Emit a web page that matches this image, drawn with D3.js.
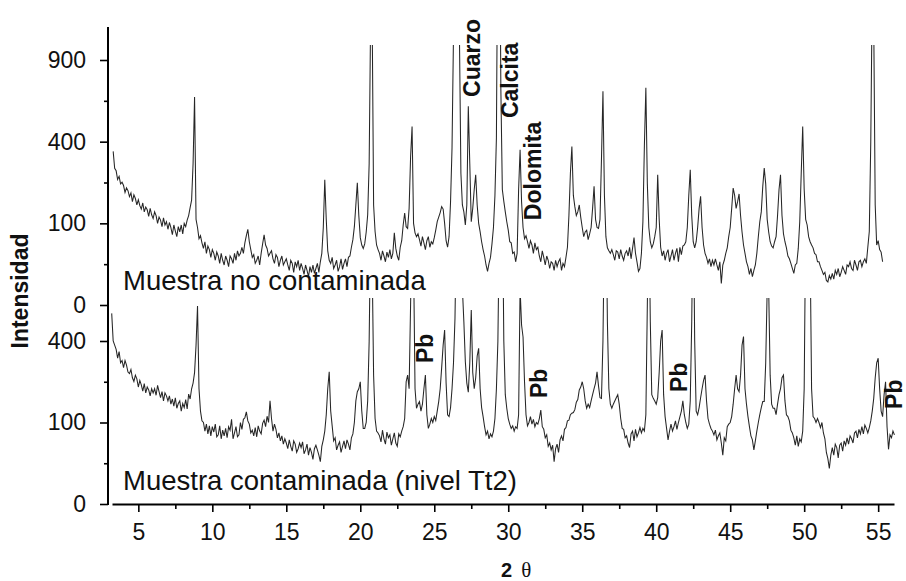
<!DOCTYPE html>
<html>
<head>
<meta charset="utf-8">
<script src="https://cdn.jsdelivr.net/npm/d3@7"></script>
<style>
  body { margin: 0; background: #fff; }
  svg { display: block; }
  text { font-family: "Liberation Sans", Arial, Helvetica, sans-serif; fill: #111; }
</style>
</head>
<body>
<svg id="chart" width="906" height="581"></svg>
<script>
// Diffractogram sampling step (degrees 2θ). Each row: [first angle of the row, counts...]
const angleStep = 0.1;

// Muestra no contaminada
const cleanRows = [
  [3.3, [354,280,270,236,248,220,226]],
  [4,  [214,190,206,196,176,188,160,182,170,150]],
  [5,  [166,148,138,156,130,144,136,118,140,122]],
  [6,  [112,130,120,100,116,108,92,114,96,104]],
  [7,  [86,102,90,74,96,82,70,92,80,96]],
  [8,  [76,100,92,108,120,142,165,300,648,110]],
  [9,  [90,66,72,58,48,60,40,52,46,34]],
  [10, [46,40,30,42,36,26,40,30,24,36]],
  [11, [30,22,36,32,26,40,30,44,36,40]],
  [12, [50,40,58,72,86,60,46,34,38,26]],
  [13, [30,36,24,40,56,74,54,48,36,40]],
  [14, [44,32,26,38,34,22,30,36,24,28]],
  [15, [32,24,18,30,26,16,28,22,30,18]],
  [16, [26,20,14,24,18,12,22,16,24,15]],
  [17, [20,26,16,28,40,90,235,110,44,30]],
  [18, [26,34,20,24,30,17,22,32,19,26]],
  [19, [32,22,34,36,50,64,92,150,224,120]],
  [20, [68,54,48,56,80,122,300,1250,1300,150]],
  [21, [81,54,46,40,30,44,36,28,42,34]],
  [22, [46,32,40,78,48,36,30,50,62,96]],
  [23, [127,92,88,140,330,478,100,78,70,76]],
  [24, [64,52,70,58,46,62,70,50,60,56]],
  [25, [68,84,104,116,128,145,138,100,62,50]],
  [26, [70,160,371,1100,2000,3000,2500,1100,260,150]],
  [27, [130,96,150,592,300,104,140,200,254,150]],
  [28, [100,80,60,46,36,24,17,26,34,56]],
  [29, [90,180,420,2500,3000,700,200,161,130,104]],
  [30, [84,60,58,40,42,28,40,200,361,160]],
  [31, [90,66,72,60,48,62,54,40,58,46]],
  [32, [50,36,28,44,34,24,36,30,20,28]],
  [33, [26,18,30,22,28,32,18,26,22,34]],
  [34, [50,120,260,377,180,145,120,130,150,115]],
  [35, [90,70,80,84,64,76,90,140,211,110]],
  [36, [90,88,110,320,685,180,70,49,44,40]],
  [37, [46,38,30,44,42,32,46,36,30,40]],
  [38, [44,36,50,32,48,68,40,28,17,20]],
  [39, [40,104,380,707,220,90,60,49,56,70]],
  [40, [90,254,110,50,36,44,30,40,46,28]],
  [41, [36,46,30,40,48,28,50,38,52,54]],
  [42, [60,90,180,274,120,60,49,60,90,140]],
  [43, [177,90,54,40,34,26,32,22,30,24]],
  [44, [32,24,18,28,7,24,30,40,49,70]],
  [45, [90,140,205,180,140,160,185,120,80,54]],
  [46, [40,28,22,14,20,12,18,24,40,70]],
  [47, [104,130,210,281,220,110,80,60,52,49]],
  [48, [60,70,120,200,254,120,76,60,49,36]],
  [49, [32,26,20,15,24,26,48,104,260,478]],
  [50, [200,110,96,70,60,54,49,40,38,28]],
  [51, [28,22,18,14,16,9,8,13,10,15]],
  [52, [10,18,14,20,12,16,22,18,14,24]],
  [53, [22,28,20,18,30,24,18,28,30,22]],
  [54, [28,32,26,50,81,400,1500,1200,150,54]],
  [55, [62,46,42,28]]
];

// Muestra contaminada (nivel Tt2)
const leadRows = [
  [3.2, [547,400,380,360,320,350,300,310]],
  [4,  [280,310,290,262,256,272,240,226,250,236]],
  [5,  [206,230,214,192,218,186,206,196,176,200]],
  [6,  [186,200,178,212,190,170,190,160,186,176]],
  [7,  [160,176,150,166,144,170,138,152,160,130]],
  [8,  [152,140,164,136,182,166,200,220,260,380]],
  [9,  [590,200,130,104,100,80,96,74,92,70]],
  [10, [90,78,96,68,72,92,64,82,70,86]],
  [11, [66,90,82,108,64,76,90,68,72,100]],
  [12, [84,108,112,128,104,96,76,82,70,88]],
  [13, [68,92,80,74,98,106,90,116,100,160]],
  [14, [110,80,96,84,66,76,60,70,54,64]],
  [15, [56,46,62,50,42,60,54,40,46,56]],
  [16, [48,58,38,44,54,36,48,40,30,46]],
  [17, [52,44,36,27,50,62,80,120,200,263]],
  [18, [130,92,60,66,44,52,58,40,50,60]],
  [19, [46,62,54,44,66,74,100,160,190,200]],
  [20, [225,130,86,86,100,160,400,1200,900,250]],
  [21, [110,80,76,70,58,82,64,54,78,66]],
  [22, [72,52,64,76,56,50,74,68,80,90]],
  [23, [110,225,250,200,600,1300,900,200,138,150]],
  [24, [158,130,150,200,250,120,86,96,110,100]],
  [25, [115,105,130,158,200,280,380,456,220,120]],
  [26, [115,140,200,300,520,1200,3000,2000,1000,700]],
  [27, [500,305,220,188,300,567,260,200,240,330]],
  [28, [365,200,140,115,90,72,80,64,74,68]],
  [29, [80,110,200,400,1200,3000,1500,400,180,138]],
  [30, [110,96,86,92,80,90,86,120,700,482]],
  [31, [420,225,120,92,100,115,96,108,90,100]],
  [32, [96,110,133,90,84,66,72,50,56,44]],
  [33, [52,27,46,54,40,62,70,60,84,88]],
  [34, [104,106,120,124,126,134,156,164,196,206]],
  [35, [225,200,160,138,150,140,160,180,200,220]],
  [36, [263,210,170,168,400,1200,1500,500,200,150]],
  [37, [138,150,160,170,180,150,110,86,84,66]],
  [38, [70,56,48,74,80,60,84,68,76,88]],
  [39, [76,86,80,120,600,1400,500,180,168,160]],
  [40, [150,170,260,400,456,180,115,86,62,80]],
  [41, [96,80,90,104,84,100,114,130,160,120]],
  [42, [100,86,96,160,500,1500,400,130,120,140]],
  [43, [170,200,230,250,160,110,96,86,80,72]],
  [44, [82,62,70,76,56,36,66,60,90,96]],
  [45, [100,115,150,200,250,200,190,250,380,422]],
  [46, [200,150,115,90,70,62,44,60,80,100]],
  [47, [120,140,158,158,300,700,700,250,150,138]],
  [48, [138,120,150,180,200,240,250,160,120,115]],
  [49, [104,82,76,66,52,70,50,64,58,80]],
  [50, [200,1200,3000,2500,1000,200,115,110,100,110]],
  [51, [100,88,100,76,64,40,31,19,36,48]],
  [52, [36,54,48,32,52,56,42,60,52,66]],
  [53, [54,70,64,56,76,80,66,84,74,90]],
  [54, [74,94,86,76,88,104,130,168,240,300]],
  [55, [320,200,130,115,180,225,90,45,72,66]],
  [56, [80,72]]
];

// Axis ticks
const angleTicks = [5,10,15,20,25,30,35,40,45,50,55];
const angleMinorTicks = [7.5,12.5,17.5,22.5,27.5,32.5,37.5,42.5,47.5,52.5];
const cleanTicks = [0,100,400,900];
const cleanMinorTicks = [25,225,625];
const leadTicks = [0,100,400];
const leadMinorTicks = [25,225];

// Phase labels
const cleanPhases = [
  {name: "Cuarzo",   angle: 28.1,  counts: 649},
  {name: "Calcita",  angle: 30.66, counts: 524},
  {name: "Dolomita", angle: 32.22, counts: 108}
];
const leadPhases = [
  {name: "Pb", angle: 24.92, counts: 299},
  {name: "Pb", angle: 32.62, counts: 169},
  {name: "Pb", angle: 42.08, counts: 189},
  {name: "Pb", angle: 56.6,  counts: 136}
];

const toPoints = rows => rows.flatMap(([a0, vals]) =>
  vals.map((v, j) => ({angle: +(a0 + j * angleStep).toFixed(2), counts: v})));
const cleanData = toPoints(cleanRows);
const leadData = toPoints(leadRows);

const svg = d3.select("#chart");

const x = d3.scaleLinear().domain([3.22, 56.07]).range([112, 894]);
const yClean = d3.scaleSqrt().domain([0, 900]).range([305, 60]);
const yLead = d3.scaleSqrt().domain([0, 400]).range([504, 341]);

// clip regions for each pattern
const defs = svg.append("defs");
defs.append("clipPath").attr("id", "clipClean")
  .append("rect").attr("x", 108).attr("y", 45).attr("width", 798).attr("height", 270);
defs.append("clipPath").attr("id", "clipLead")
  .append("rect").attr("x", 108).attr("y", 298).attr("width", 798).attr("height", 210);

const lineClean = d3.line().x(d => x(d.angle)).y(d => yClean(d.counts));
const lineLead = d3.line().x(d => x(d.angle)).y(d => yLead(d.counts));

svg.append("path").datum(cleanData)
  .attr("clip-path", "url(#clipClean)")
  .attr("d", lineClean)
  .attr("fill", "none").attr("stroke", "#262626").attr("stroke-width", 1.05);

svg.append("path").datum(leadData)
  .attr("clip-path", "url(#clipLead)")
  .attr("d", lineLead)
  .attr("fill", "none").attr("stroke", "#262626").attr("stroke-width", 1.05);

// Y axes
const styleAxis = g => {
  g.select(".domain").remove();
  g.selectAll(".tick line").attr("stroke", "#000").attr("stroke-width", 1.6);
  g.selectAll(".tick text").attr("font-size", 23).attr("fill", "#111")
    .style("font-family", '"Liberation Sans", Arial, sans-serif');
};

svg.append("g").attr("transform", "translate(108,0)")
  .call(d3.axisLeft(yClean).tickValues(cleanTicks).tickSize(8).tickPadding(14).tickFormat(d3.format("d")))
  .call(styleAxis);
svg.append("g").attr("transform", "translate(108,0)")
  .call(d3.axisLeft(yClean).tickValues(cleanMinorTicks).tickSize(4).tickFormat(""))
  .call(styleAxis);
svg.append("g").attr("transform", "translate(108,0)")
  .call(d3.axisLeft(yLead).tickValues(leadTicks).tickSize(8).tickPadding(14).tickFormat(d3.format("d")))
  .call(styleAxis);
svg.append("g").attr("transform", "translate(108,0)")
  .call(d3.axisLeft(yLead).tickValues(leadMinorTicks).tickSize(4).tickFormat(""))
  .call(styleAxis);

svg.append("line").attr("x1", 108).attr("x2", 108).attr("y1", 27).attr("y2", 505)
  .attr("stroke", "#000").attr("stroke-width", 2);

// X axis
const xAxisG = svg.append("g").attr("transform", "translate(0,504)");
xAxisG.append("g")
  .call(d3.axisBottom(x).tickValues(angleTicks).tickSize(8).tickSizeOuter(0).tickPadding(12))
  .call(g => {
    g.select(".domain").attr("stroke", "#000").attr("stroke-width", 2);
    g.selectAll(".tick line").attr("stroke", "#000").attr("stroke-width", 1.6);
    g.selectAll(".tick text").attr("font-size", 23).attr("fill", "#111")
      .style("font-family", '"Liberation Sans", Arial, sans-serif');
  });
xAxisG.append("g")
  .call(d3.axisBottom(x).tickValues(angleMinorTicks).tickSize(5).tickFormat(""))
  .call(g => {
    g.select(".domain").remove();
    g.selectAll(".tick line").attr("stroke", "#000").attr("stroke-width", 1.6);
  });

// Axis titles
svg.append("text")
  .attr("transform", "translate(28,291) rotate(-90)")
  .attr("text-anchor", "middle")
  .attr("font-size", 23).attr("font-weight", "bold")
  .text("Intensidad");

const xTitle = svg.append("text").attr("x", 501).attr("y", 577).attr("font-size", 20);
xTitle.append("tspan").attr("font-weight", "bold").text("2");
xTitle.append("tspan").attr("dx", 9).style("font-family", '"Liberation Serif", "DejaVu Serif", serif')
  .attr("font-size", 21).text("θ");

// Sample names
svg.append("text").attr("x", 123).attr("y", 290).attr("font-size", 27.5).text("Muestra no contaminada");
svg.append("text").attr("x", 123).attr("y", 490).attr("font-size", 27.5).text("Muestra contaminada (nivel Tt2)");

// Phase labels
const phaseLabel = (list, yScale) => svg.append("g").selectAll("text").data(list).join("text")
  .attr("transform", d => `translate(${x(d.angle)},${yScale(d.counts)}) rotate(-90)`)
  .attr("font-size", 23).attr("font-weight", "bold")
  .text(d => d.name);
phaseLabel(cleanPhases, yClean);
phaseLabel(leadPhases, yLead);
</script>
</body>
</html>
